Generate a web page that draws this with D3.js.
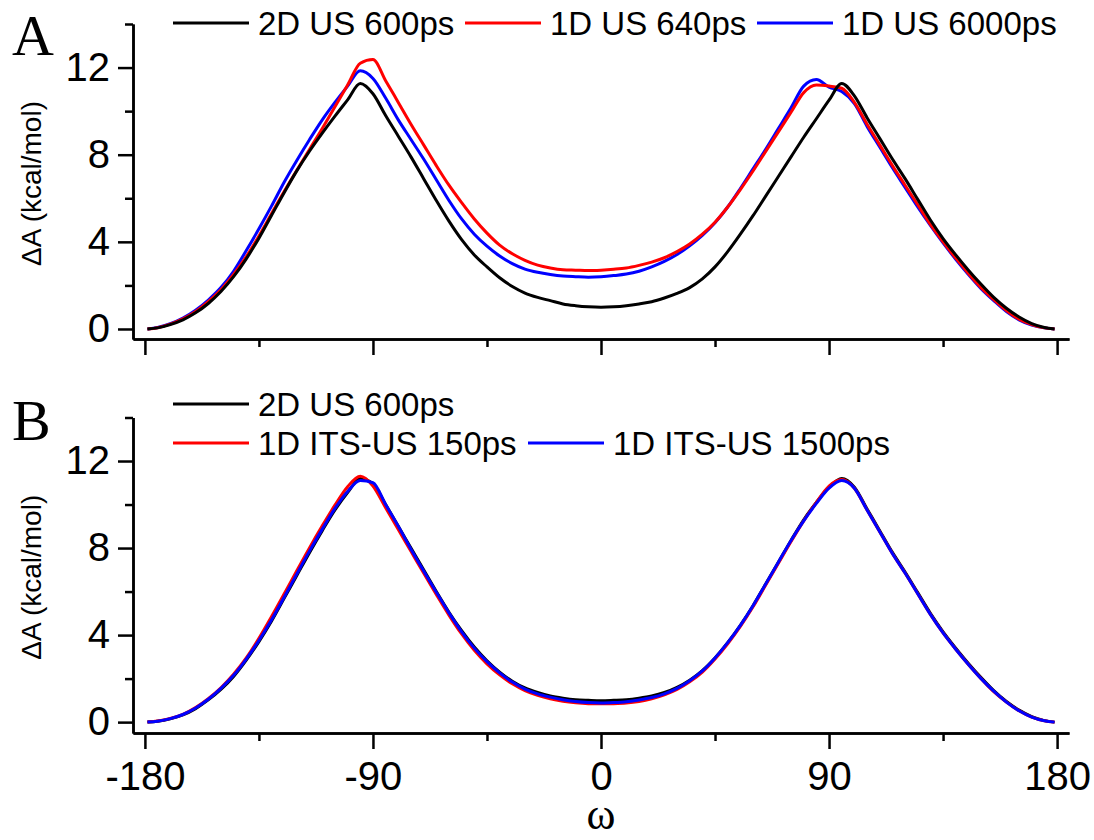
<!DOCTYPE html>
<html>
<head>
<meta charset="utf-8">
<script src="https://cdnjs.cloudflare.com/ajax/libs/d3/7.8.5/d3.min.js"></script>
<style>
  body { margin: 0; background: #fff; }
  svg text { font-family: Arial, "Liberation Sans", sans-serif; }
</style>
</head>
<body>
<div id="chart"></div>
<script>
// omega grid (degrees)
var omega = [-179, -175, -170, -165, -160, -155, -150, -145, -140, -135, -130, -125, -120, -115, -110, -105, -100, -95, -90, -85,
  -80, -75, -70, -65, -60, -55, -50, -45, -40, -35, -30, -25, -20, -15, -10, -5, 0, 5, 10, 15,
  20, 25, 30, 35, 40, 45, 50, 55, 60, 65, 70, 75, 80, 85, 90, 95, 100, 105, 110, 115,
  120, 125, 130, 135, 140, 145, 150, 155, 160, 165, 170, 175, 179];

// panel A
var us2d600A = [0, 0.05, 0.2, 0.42, 0.74, 1.17, 1.72, 2.4, 3.22, 4.17, 5.22, 6.27, 7.27, 8.17, 8.99, 9.77, 10.52, 11.27, 10.8, 9.8,
  8.85, 7.9, 6.9, 5.9, 4.95, 4.1, 3.4, 2.85, 2.35, 1.95, 1.65, 1.45, 1.3, 1.15, 1.07, 1.02, 1.0, 1.02, 1.07, 1.15,
  1.25, 1.42, 1.63, 1.9, 2.3, 2.85, 3.55, 4.35, 5.2, 6.1, 7.0, 7.9, 8.8, 9.65, 10.5, 11.27, 10.7, 9.7, 8.75, 7.8,
  6.9, 5.95, 5.0, 4.15, 3.4, 2.7, 2.05, 1.45, 0.95, 0.55, 0.25, 0.07, 0];
var us1d640 = [0, 0.06, 0.22, 0.46, 0.8, 1.25, 1.8, 2.5, 3.32, 4.27, 5.3, 6.32, 7.3, 8.25, 9.2, 10.2, 11.2, 12.2, 12.37, 11.4,
  10.4, 9.4, 8.45, 7.5, 6.6, 5.8, 5.05, 4.4, 3.85, 3.45, 3.15, 2.93, 2.8, 2.72, 2.7, 2.68, 2.7, 2.74, 2.8, 2.92,
  3.07, 3.27, 3.55, 3.9, 4.35, 4.9, 5.6, 6.4, 7.25, 8.15, 9.05, 9.95, 10.85, 11.2, 11.15, 11.05, 10.4, 9.4, 8.45, 7.5,
  6.6, 5.7, 4.8, 4.0, 3.25, 2.55, 1.9, 1.35, 0.85, 0.45, 0.2, 0.05, 0];
var us1d6000 = [0, 0.07, 0.24, 0.5, 0.86, 1.33, 1.9, 2.65, 3.6, 4.6, 5.65, 6.75, 7.75, 8.7, 9.6, 10.4, 11.15, 11.85, 11.5, 10.6,
  9.6, 8.7, 7.8, 6.85, 5.9, 5.05, 4.35, 3.8, 3.35, 3.0, 2.75, 2.6, 2.5, 2.43, 2.4, 2.38, 2.4, 2.45, 2.52, 2.65,
  2.85, 3.1, 3.42, 3.82, 4.3, 4.88, 5.6, 6.45, 7.35, 8.25, 9.2, 10.15, 11.15, 11.45, 11.1, 10.9, 10.35, 9.3, 8.35, 7.4,
  6.5, 5.6, 4.75, 3.95, 3.2, 2.5, 1.85, 1.3, 0.8, 0.42, 0.18, 0.05, 0];

// panel B
var us2d600B = [0, 0.04, 0.15, 0.33, 0.62, 1.02, 1.5, 2.1, 2.85, 3.7, 4.65, 5.7, 6.75, 7.8, 8.8, 9.75, 10.55, 11.2, 10.95, 10.0,
  9.0, 8.0, 7.0, 6.0, 5.05, 4.2, 3.45, 2.82, 2.3, 1.88, 1.57, 1.36, 1.2, 1.1, 1.03, 1.0, 0.98, 1.0, 1.03, 1.1,
  1.2, 1.36, 1.6, 1.93, 2.37, 2.95, 3.65, 4.45, 5.35, 6.35, 7.35, 8.35, 9.3, 10.1, 10.8, 11.2, 10.8, 9.8, 8.8, 7.8,
  6.9, 5.95, 5.0, 4.15, 3.4, 2.7, 2.05, 1.45, 0.95, 0.55, 0.25, 0.07, 0];
var its150 = [0, 0.05, 0.17, 0.36, 0.67, 1.08, 1.58, 2.2, 2.95, 3.85, 4.85, 5.9, 6.97, 8.02, 9.02, 9.97, 10.82, 11.3, 10.85, 9.85,
  8.85, 7.85, 6.85, 5.87, 4.92, 4.05, 3.3, 2.68, 2.17, 1.76, 1.45, 1.23, 1.07, 0.96, 0.89, 0.85, 0.84, 0.85, 0.88, 0.95,
  1.07, 1.25, 1.5, 1.85, 2.3, 2.9, 3.6, 4.4, 5.3, 6.3, 7.3, 8.3, 9.25, 10.1, 10.85, 11.15, 10.75, 9.75, 8.75, 7.75,
  6.85, 5.9, 4.95, 4.1, 3.35, 2.65, 2.0, 1.4, 0.92, 0.52, 0.23, 0.06, 0];
var its1500 = [0, 0.04, 0.16, 0.35, 0.65, 1.05, 1.55, 2.15, 2.9, 3.75, 4.7, 5.75, 6.82, 7.87, 8.87, 9.82, 10.6, 11.1, 11.0, 10.0,
  9.0, 7.95, 6.95, 5.97, 5.02, 4.15, 3.4, 2.78, 2.26, 1.84, 1.52, 1.3, 1.15, 1.03, 0.95, 0.9, 0.88, 0.9, 0.94, 1.02,
  1.13, 1.3, 1.55, 1.9, 2.35, 2.95, 3.65, 4.45, 5.35, 6.35, 7.35, 8.35, 9.25, 10.05, 10.75, 11.1, 10.75, 9.75, 8.75, 7.75,
  6.85, 5.9, 4.95, 4.1, 3.35, 2.65, 2.0, 1.42, 0.92, 0.52, 0.23, 0.06, 0];

var yTicksMajor = [0, 4, 8, 12], yTicksMinor = [2, 6, 10, 14];
var xTicksMajor = [-180, -90, 0, 90, 180], xTicksMinor = [-135, -45, 45, 135];

var seriesA = [
  {name: "2D US 600ps", color: "#000000", values: us2d600A},
  {name: "1D US 640ps", color: "#ff0000", values: us1d640},
  {name: "1D US 6000ps", color: "#0000ff", values: us1d6000}
];
var seriesB = [
  {name: "2D US 600ps", color: "#000000", values: us2d600B},
  {name: "1D ITS-US 150ps", color: "#ff0000", values: its150},
  {name: "1D ITS-US 1500ps", color: "#0000ff", values: its1500}
];

var W = 1094, H = 840;
var svg = d3.select("#chart").append("svg")
  .attr("width", W).attr("height", H);

var x = d3.scaleLinear().domain([-184.7, 184.7]).range([133, 1069]);
var plain = function(d) { return String(d); }; // hyphen minus, like the original

function drawPanel(series, top, bottom, yMin, letter, letterY, drawOrder, legendPos, showXLabels) {
  var y = d3.scaleLinear().domain([yMin, 14]).range([bottom, top]);
  var g = svg.append("g");

  // lines
  var line = d3.line()
    .x(function(d) { return x(d[0]); })
    .y(function(d) { return y(d[1]); })
    .curve(d3.curveMonotoneX);
  drawOrder.forEach(function(i) {
    var s = series[i];
    g.append("path")
      .datum(omega.map(function(w, k) { return [w, s.values[k]]; }))
      .attr("fill", "none")
      .attr("stroke", s.color)
      .attr("stroke-width", 3)
      .attr("stroke-linejoin", "round")
      .attr("d", line);
  });

  // y axis
  g.append("g").attr("transform", "translate(133,0)")
    .call(d3.axisLeft(y).tickValues(yTicksMajor).tickSize(15).tickSizeOuter(0).tickPadding(8).tickFormat(plain));
  g.append("g").attr("transform", "translate(133,0)")
    .call(d3.axisLeft(y).tickValues(yTicksMinor).tickSize(8).tickSizeOuter(0).tickFormat(""));
  // x axis
  var xa = g.append("g").attr("transform", "translate(0," + bottom + ")")
    .call(d3.axisBottom(x).tickValues(xTicksMajor).tickSize(16).tickSizeOuter(0).tickPadding(13).tickFormat(plain));
  g.append("g").attr("transform", "translate(0," + bottom + ")")
    .call(d3.axisBottom(x).tickValues(xTicksMinor).tickSize(8).tickSizeOuter(0).tickFormat(""));

  g.selectAll(".domain").attr("stroke", "#000").attr("stroke-width", 2.5);
  g.selectAll(".tick line").attr("stroke", "#000").attr("stroke-width", 2.5);
  g.selectAll(".tick text").attr("font-size", 40).attr("fill", "#000")
    .style("font-family", "Arial, 'Liberation Sans', sans-serif");
  if (!showXLabels) xa.selectAll(".tick text").remove();

  // y label
  g.append("text")
    .attr("transform", "translate(41," + ((top + bottom) / 2 + 2) + ") rotate(-90)")
    .attr("text-anchor", "middle")
    .attr("font-size", 28)
    .text("\u0394A (kcal/mol)");

  // panel letter
  g.append("text")
    .attr("x", 12).attr("y", letterY)
    .style("font-family", "'Liberation Serif', 'Times New Roman', serif")
    .attr("font-size", 58)
    .text(letter);

  // legend
  legendPos.forEach(function(p, i) {
    g.append("line")
      .attr("x1", p[0]).attr("x2", p[0] + 76)
      .attr("y1", p[1]).attr("y2", p[1])
      .attr("stroke", series[i].color).attr("stroke-width", 3);
    g.append("text")
      .attr("x", p[0] + 85).attr("y", p[1] + 12)
      .attr("font-size", 33)
      .text(series[i].name);
  });
}

drawPanel(seriesA, 24, 339, -0.46, "A", 55, [2, 1, 0], [[173, 23], [465, 23], [757, 23]], false);
drawPanel(seriesB, 417.5, 733, -0.5, "B", 440, [0, 1, 2], [[173, 404], [173, 443], [528, 443]], true);

// x label
svg.append("text")
  .attr("x", 601).attr("y", 829)
  .attr("text-anchor", "middle")
  .style("font-family", "'Liberation Serif', 'Times New Roman', serif")
  .attr("font-size", 44)
  .text("\u03c9");
</script>
</body>
</html>
